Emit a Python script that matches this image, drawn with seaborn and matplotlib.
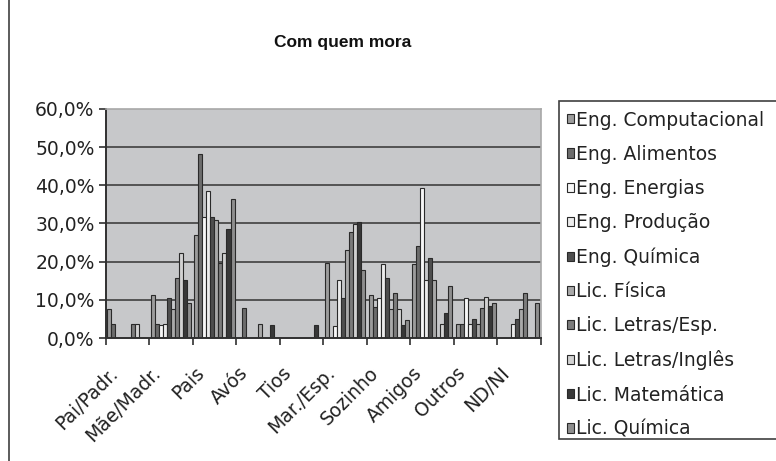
import matplotlib
matplotlib.use("Agg")
import matplotlib.pyplot as plt
from matplotlib.patches import Patch, Rectangle
from matplotlib.lines import Line2D
from matplotlib.transforms import ScaledTranslation
import seaborn as sns
import pandas as pd
import numpy as np

# Categories (who the student lives with)
categorias = ["Pai/Padr.", "Mãe/Madr.", "Pais", "Avós", "Tios",
              "Mar./Esp.", "Sozinho", "Amigos", "Outros", "ND/NI"]

# Percent per course, one value per category
eng_comp = [7.5, 11.3, 26.9, 0, 0, 19.7, 11.2, 19.5, 3.7, 0]
eng_alim = [3.7, 3.6, 48.2, 7.9, 0, 0, 8.0, 24.0, 3.7, 0]
eng_ener = [0, 3.5, 31.8, 0, 0, 3.1, 10.4, 39.2, 10.4, 0]
eng_prod = [0, 3.7, 38.5, 0, 0, 15.1, 19.5, 15.1, 3.7, 3.7]
eng_quim = [0, 10.4, 31.7, 0, 0, 10.5, 15.6, 21.0, 5.1, 5.0]
lic_fis = [0, 7.5, 30.8, 3.7, 0, 23.1, 7.5, 15.1, 3.7, 7.5]
lic_esp = [3.7, 15.8, 19.7, 0, 0, 27.8, 11.8, 0, 7.9, 11.8]
lic_ing = [3.7, 22.3, 22.3, 0, 0, 29.8, 7.5, 3.7, 10.8, 0]
lic_mat = [0, 15.2, 28.6, 3.5, 3.5, 30.3, 3.4, 6.6, 8.4, 0]
lic_quim = [0, 9.3, 36.4, 0, 0, 17.9, 4.7, 13.6, 9.1, 9.1]

cursos = ["Eng. Computacional", "Eng. Alimentos", "Eng. Energias", "Eng. Produção",
          "Eng. Química", "Lic. Física", "Lic. Letras/Esp.", "Lic. Letras/Inglês",
          "Lic. Matemática", "Lic. Química"]
series = [eng_comp, eng_alim, eng_ener, eng_prod, eng_quim,
          lic_fis, lic_esp, lic_ing, lic_mat, lic_quim]

cores = ["#9c9c9c", "#6c6c6c", "#f7f7f7", "#ececec", "#4e4e4e",
         "#a9a9a9", "#7c7c7c", "#d2d2d2", "#383838", "#8e8e8e"]

y_ticks = [0, 10, 20, 30, 40, 50, 60]

# Long table for seaborn
rows = []
for curso, vals in zip(cursos, series):
    for cat, v in zip(categorias, vals):
        rows.append({"Categoria": cat, "Curso": curso, "Valor": v if v > 0 else np.nan})
df = pd.DataFrame(rows)

sns.set_style("white")
plt.rcParams["font.family"] = ["DejaVu Sans"]

fig = plt.figure(figsize=(7.76, 4.61), dpi=100)
ax = fig.add_axes([0.1362, 0.2668, 0.5608, 0.4968])
ax.set_facecolor("#c7c8ca")

sns.barplot(data=df, x="Categoria", y="Valor", hue="Curso", order=categorias,
            hue_order=cursos, palette=cores, width=0.92, saturation=1,
            edgecolor="#2a2a2a", linewidth=0.8, legend=False, ax=ax)

ax.set_xlim(-0.5, len(categorias) - 0.5)
ax.set_ylim(0, 60)
ax.set_xlabel("")
ax.set_ylabel("")

# Gridlines
ax.set_axisbelow(True)
for v in y_ticks[1:-1]:
    ax.axhline(v, color="#4a4a4a", linewidth=1.3, zorder=0.5)

# Y axis
ax.set_yticks(y_ticks)
ax.set_yticklabels([f"{v:.1f}%".replace(".", ",") for v in y_ticks], fontsize=13.5, color="#222222")
ax.tick_params(axis="y", direction="out", length=5, width=1.2, color="#303030", pad=3, left=True)

# X axis: tick marks between categories, labels at centers
ax.set_xticks(range(len(categorias)))
ax.set_xticklabels(categorias, rotation=45, ha="right", va="baseline",
                   rotation_mode="anchor", fontsize=13.5, color="#222222")
ax.tick_params(axis="x", length=0, pad=26)
shift = ScaledTranslation(-9 / 100, 0, fig.dpi_scale_trans)
for lab in ax.get_xticklabels():
    lab.set_transform(lab.get_transform() + shift)
ax.set_xticks(np.arange(-0.5, len(categorias), 1), minor=True)
ax.tick_params(axis="x", which="minor", direction="out", length=5, width=1.2,
               color="#303030", bottom=True)

for s in ["left", "bottom"]:
    ax.spines[s].set_color("#303030")
    ax.spines[s].set_linewidth(1.4)
for s in ["top", "right"]:
    ax.spines[s].set_color("#a8a8a8")
    ax.spines[s].set_linewidth(1.2)

# Title
fig.text(343 / 776, 1 - 43 / 461, "Com quem mora", ha="center", va="center",
         fontsize=12.5, fontweight="bold", family=["Liberation Sans", "DejaVu Sans"],
         color="#111111")

# Legend frame and entries
fig.patches.append(Rectangle((559 / 776, 1 - 439 / 461), 0.4, 338 / 461,
                             transform=fig.transFigure, facecolor="white",
                             edgecolor="#404040", linewidth=1.2, zorder=0))
handles = [Patch(facecolor=c, edgecolor="#2a2a2a", linewidth=0.8) for c in cores]
fig.legend(handles, cursos, loc="upper left", bbox_to_anchor=(567 / 776, 1 - 110.6 / 461),
           bbox_transform=fig.transFigure, frameon=False, fontsize=13.5,
           handlelength=0.38, handleheight=0.38, handletextpad=0.08,
           labelspacing=0.81, borderpad=0, borderaxespad=0, labelcolor="#222222")

# Outer chart border
fig.add_artist(Line2D([9 / 776, 9 / 776], [0, 1], transform=fig.transFigure,
                      color="#404040", linewidth=1.2))

fig.savefig("out.png", dpi=100)
